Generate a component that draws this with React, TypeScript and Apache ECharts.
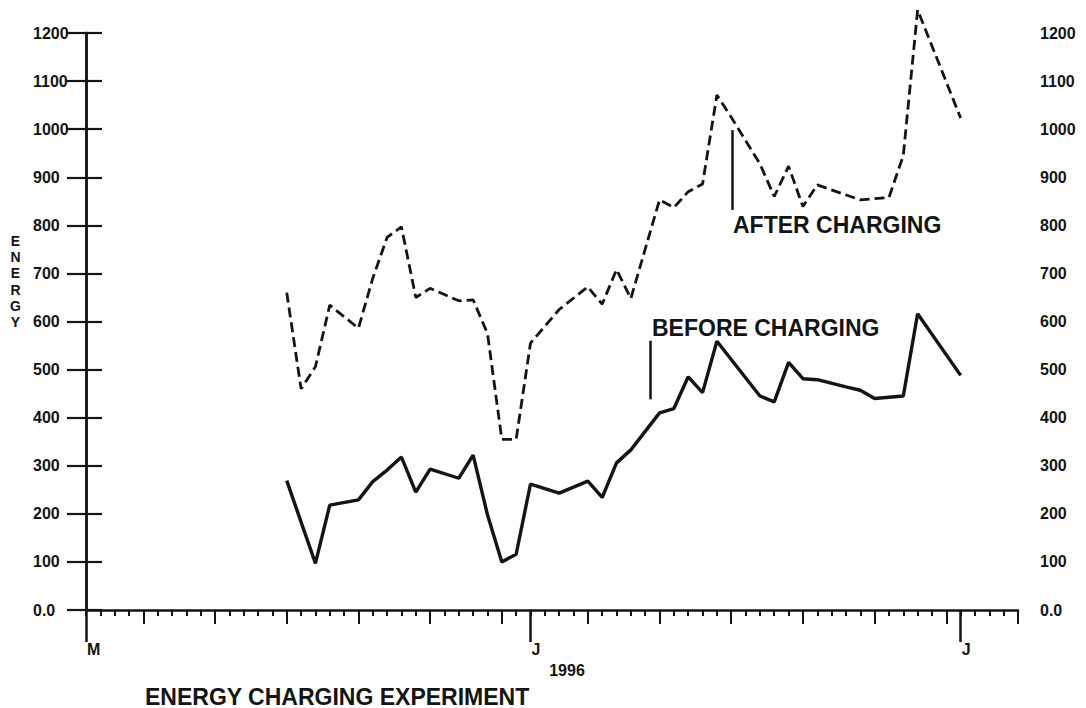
import React, { useEffect, useRef } from "react";
import * as echarts from "echarts";

// ---- Data (day index: 0 = May 1, 31 = June 1, 61 = July 1, 65 = July 5) ----
const dayMin = 0;
const dayMax = 65;
const monthStartDays = [0, 31, 61];
const monthLabels = ["M", "J", "J"];
const fiveDayTicks = [4, 9, 14, 19, 24, 29, 35, 40, 45, 50, 55, 60, 65];

const afterDays = [14, 15, 16, 17, 19, 20, 21, 22, 23, 24, 25, 26, 27, 28, 29, 30, 31, 33, 35, 36, 37, 38, 40, 41, 42, 43, 44, 45, 47, 48, 49, 50, 51, 54, 56, 57, 58, 61];
const afterValues = [660, 460, 506, 634, 586, 690, 775, 797, 650, 669, 656, 643, 645, 575, 355, 355, 555, 625, 672, 636, 708, 648, 853, 837, 870, 886, 1071, 1025, 928, 860, 923, 839, 884, 853, 858, 945, 1248, 1023];

const beforeDays = [14, 16, 17, 19, 20, 21, 22, 23, 24, 26, 27, 28, 29, 30, 31, 33, 35, 36, 37, 38, 40, 41, 42, 43, 44, 47, 48, 49, 50, 51, 53, 54, 55, 57, 58, 61];
const beforeValues = [269, 97, 218, 229, 267, 291, 318, 245, 293, 274, 322, 198, 100, 116, 262, 243, 268, 234, 306, 333, 410, 419, 485, 452, 559, 445, 433, 515, 481, 479, 464, 457, 440, 445, 616, 488];

// annotation pointer lines: [day, topValue, bottomValue]
const afterPointer = [45.07, 998, 832];
const beforePointer = [39.38, 560, 438];

const yMin = 0;
const yMax = 1200;
const yStep = 100;

const titleText = "ENERGY CHARGING EXPERIMENT";
const yearText = "1996";
const yAxisName = "ENERGY";
const afterLabel = "AFTER CHARGING";
const beforeLabel = "BEFORE CHARGING";

const INK = "#141414";
const FONT = '"Liberation Sans", Arial, Helvetica, sans-serif';

export default function App() {
  const ref = useRef<HTMLDivElement>(null);

  useEffect(() => {
    if (!ref.current) return;
    const chart = echarts.init(ref.current, null, { renderer: "svg" });

    const afterData = afterDays.map((d, i) => [d, afterValues[i]]);
    const beforeData = beforeDays.map((d, i) => [d, beforeValues[i]]);

    const baseX = {
      type: "value",
      min: dayMin,
      max: dayMax,
      position: "bottom",
      gridIndex: 0,
      splitLine: { show: false },
      axisLine: { show: false, onZero: false },
      axisLabel: { show: false },
    };

    const yLabelFmt = (v: number) => (v === 0 ? "0.0" : String(v));

    const option: any = {
      animation: false,
      backgroundColor: "#ffffff",
      grid: { left: 86, right: 68, top: 33, bottom: 98, containLabel: false },
      xAxis: [
        {
          ...baseX,
          interval: 1,
          axisLine: { show: true, onZero: false, lineStyle: { color: INK, width: 2.5 } },
          axisTick: { show: true, length: 6, lineStyle: { color: INK, width: 2 } },
        },
        {
          ...baseX,
          axisTick: { show: true, length: 14, customValues: fiveDayTicks, lineStyle: { color: INK, width: 2 } },
        },
        {
          ...baseX,
          axisTick: { show: true, length: 32, customValues: monthStartDays, lineStyle: { color: INK, width: 2.5 } },
          axisLabel: {
            show: true,
            customValues: monthStartDays,
            formatter: (v: number) => monthLabels[monthStartDays.indexOf(v)] ?? "",
            align: "left",
            verticalAlign: "top",
            margin: 31,
            color: INK,
            fontFamily: FONT,
            fontWeight: "bold",
            fontSize: 16,
            padding: [0, 0, 0, 1],
          },
        },
      ],
      yAxis: [
        {
          type: "value",
          position: "left",
          min: yMin,
          max: yMax,
          interval: yStep,
          splitLine: { show: false },
          axisLine: { show: true, lineStyle: { color: INK, width: 2.5 } },
          axisTick: { show: true, length: 19, lineStyle: { color: INK, width: 2.2 } },
          axisLabel: {
            formatter: yLabelFmt,
            align: "left",
            margin: 53,
            color: INK,
            fontFamily: FONT,
            fontWeight: "bold",
            fontSize: 16,
          },
        },
        {
          type: "value",
          position: "right",
          min: yMin,
          max: yMax,
          interval: yStep,
          splitLine: { show: false },
          axisLine: { show: true, lineStyle: { color: INK, width: 2.5 } },
          axisTick: { show: true, length: 16, lineStyle: { color: INK, width: 2.2 } },
          axisLabel: {
            formatter: yLabelFmt,
            align: "left",
            margin: 22,
            color: INK,
            fontFamily: FONT,
            fontWeight: "bold",
            fontSize: 16,
          },
        },
      ],
      series: [
        {
          name: afterLabel,
          type: "line",
          xAxisIndex: 0,
          yAxisIndex: 0,
          data: afterData,
          symbol: "none",
          clip: false,
          silent: true,
          lineStyle: { color: INK, width: 2.8, type: [10, 5] },
          markLine: {
            silent: true,
            symbol: ["none", "none"],
            label: { show: false },
            lineStyle: { color: INK, width: 2.5, type: "solid" },
            data: [[{ coord: [afterPointer[0], afterPointer[1]] }, { coord: [afterPointer[0], afterPointer[2]] }]],
          },
        },
        {
          name: beforeLabel,
          type: "line",
          xAxisIndex: 0,
          yAxisIndex: 0,
          data: beforeData,
          symbol: "none",
          clip: false,
          silent: true,
          lineStyle: { color: INK, width: 3.4, type: "solid" },
          markLine: {
            silent: true,
            symbol: ["none", "none"],
            label: { show: false },
            lineStyle: { color: INK, width: 2.5, type: "solid" },
            data: [[{ coord: [beforePointer[0], beforePointer[1]] }, { coord: [beforePointer[0], beforePointer[2]] }]],
          },
        },
      ],
      graphic: [
        {
          type: "text",
          x: 15.5,
          y: 281.5,
          style: {
            text: yAxisName.split("").join("\n"),
            fill: INK,
            fontFamily: FONT,
            fontWeight: "bold",
            fontSize: 14,
            lineHeight: 16.2,
            align: "center",
            verticalAlign: "middle",
          },
        },
        {
          type: "text",
          x: 733,
          y: 225,
          style: { text: afterLabel, fill: INK, fontFamily: FONT, fontWeight: "bold", fontSize: 23, align: "left", verticalAlign: "middle" },
        },
        {
          type: "text",
          x: 652,
          y: 328,
          style: { text: beforeLabel, fill: INK, fontFamily: FONT, fontWeight: "bold", fontSize: 23, align: "left", verticalAlign: "middle" },
        },
        {
          type: "text",
          x: 567,
          y: 670,
          style: { text: yearText, fill: INK, fontFamily: FONT, fontWeight: "bold", fontSize: 16, align: "center", verticalAlign: "middle" },
        },
        {
          type: "text",
          x: 145,
          y: 696.5,
          style: { text: titleText, fill: INK, fontFamily: FONT, fontWeight: "bold", fontSize: 23, align: "left", verticalAlign: "middle" },
        },
      ],
    };

    chart.setOption(option);
    return () => chart.dispose();
  }, []);

  return (
    <div
      ref={ref}
      style={{ position: "absolute", left: 0, top: 0, width: 1086, height: 708, background: "#fff" }}
    />
  );
}
